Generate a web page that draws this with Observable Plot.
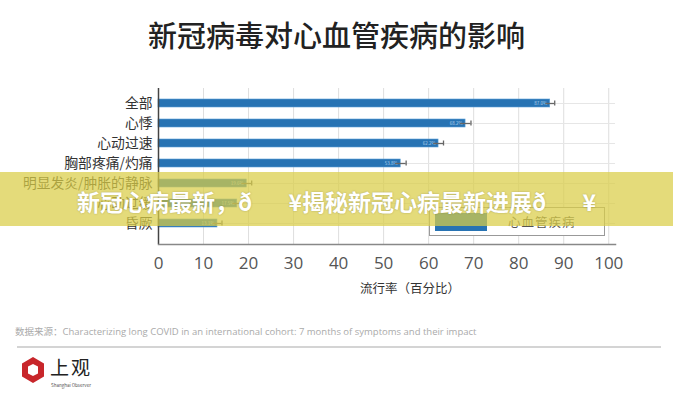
<!DOCTYPE html>
<html>
<head>
<meta charset="utf-8">
<script src="https://cdn.jsdelivr.net/npm/d3@7"></script>
<script src="https://cdn.jsdelivr.net/npm/@observablehq/plot@0.6"></script>
<style>
  html, body { margin: 0; padding: 0; background: #fff; }
  #page { position: relative; width: 673px; height: 400px; overflow: hidden; background: #fff;
          font-family: "Noto Sans CJK SC", "Noto Sans", sans-serif; }
  #title { position: absolute; top: 13px; left: 0; width: 673px; text-align: center;
           font-size: 29px; font-weight: 500; color: #222; line-height: 42px; }
  #chart { position: absolute; top: 80px; left: 0; }
  #chart svg { overflow: visible; }
  #chart [aria-label^="x-axis"] text { font-size: 17px; fill: #555; font-family: "Open Sans", "Noto Sans", sans-serif; }
  #chart [aria-label^="y-axis"] text { font-size: 13.8px; fill: #333; font-family: "Noto Sans CJK SC", sans-serif; }
  #xlabel { position: absolute; top: 279px; left: 360px; width: 100px; text-align: center;
            font-size: 12.5px; color: #333; line-height: 18px; white-space: nowrap; }
  #legend { position: absolute; left: 429px; top: 207px; width: 176px; height: 29px;
            border: 1px solid #999; box-sizing: border-box; background: #fff; }
  #legend .sw { position: absolute; left: 5px; top: 5px; width: 52px; height: 18px; }
  #legend .lt { position: absolute; left: 78px; top: 5px; font-size: 12.5px; color: #555; line-height: 18px; letter-spacing: 1px; }
  #banner { position: absolute; left: 0; top: 172px; width: 673px; height: 54px;
            background: rgba(218, 205, 70, 0.72); z-index: 5; }
  #banner .bt { position: absolute; left: 0; top: 0; width: 673px; line-height: 58px; text-align: center;
                font-size: 23px; font-weight: 700; color: #fff; white-space: nowrap;
                text-shadow: 0 0 2px rgba(0,0,0,0.25); }
  #source { position: absolute; left: 15px; top: 324px; font-size: 9.5px; color: #aaa; white-space: nowrap;
            font-family: "Open Sans", "Noto Sans CJK SC", sans-serif; }
  #sepline { position: absolute; left: 17px; top: 346px; width: 644px; height: 2px; background: #d4d4d4; }
  #logo { position: absolute; left: 20px; top: 356px; width: 100px; height: 40px; }
  #logo .name { position: absolute; left: 30px; top: 1px; font-size: 19px; line-height: 20px; color: #222; white-space: nowrap; letter-spacing: 2px; }
  #logo .en { position: absolute; left: 31px; top: 26px; font-size: 4.5px; line-height: 6px; color: #555; white-space: nowrap; }
</style>
</head>
<body>
<div id="page">
  <div id="title">新冠病毒对心血管疾病的影响</div>
  <div id="chart"></div>
  <div id="xlabel">流行率（百分比）</div>
  <div id="legend"><div class="sw"></div><div class="lt">心血管疾病</div></div>
  <div id="banner"><div class="bt"></div></div>
  <div id="source">数据来源：Characterizing long COVID in an international cohort: 7 months of symptoms and their impact</div>
  <div id="sepline"></div>
  <div id="logo">
    <svg width="26" height="28" viewBox="0 0 26 28">
      <polygon points="13,1 24,7.5 24,20.5 13,27 2,20.5 2,7.5" fill="#c8262b"/>
      <polygon points="13,8 18,10.5 18,17.5 13,20 8,17.5 8,10.5" fill="#fff"/>
    </svg>
    <div class="name">上观</div>
    <div class="en">Shanghai Observer</div>
  </div>
</div>
<script>
// ---- data ----
const categories = ["全部", "心悸", "心动过速", "胸部疼痛/灼痛", "明显发炎/肿胀的静脉", "心动过缓", "昏厥"];
const values = [87.0, 68.2, 62.2, 53.8, 19.6, 17.5, 13.1];
const errors = [1.0, 1.2, 1.1, 1.2, 1.1, 1.0, 1.0];
const xTicks = [0, 10, 20, 30, 40, 50, 60, 70, 80, 90, 100];
const seriesName = "心血管疾病";
const bannerText = "新冠心病最新，\u00f0\u009f\u0094\u00a5揭秘新冠心病最新进展\u00f0\u009f\u0094\u00a5";

const barColor = "#2773b3";
document.querySelector("#legend .sw").style.background = barColor;
document.querySelector("#legend .lt").textContent = seriesName;
document.querySelector("#banner .bt").textContent = bannerText;

const rows = categories.map((name, i) => ({name, value: values[i], err: errors[i]}));

const chart = Plot.plot({
  width: 673,
  height: 220,
  marginLeft: 158,
  marginRight: 58,
  marginTop: 8,
  marginBottom: 56,
  x: {domain: [0, 101.5], ticks: xTicks, tickSize: 0, tickPadding: 12, label: null},
  y: {domain: categories, range: [7.3, 159.3], padding: 0.6, tickSize: 0, tickPadding: 6, label: null},
  style: {background: "transparent", fontFamily: "Noto Sans CJK SC, sans-serif"},
  marks: [
    Plot.ruleX(xTicks.slice(1), {stroke: "#dedede", strokeWidth: 1}),
    Plot.ruleY(rows, {y: "name", x1: 0, x2: 101.5, stroke: "#e6e6e6", strokeWidth: 1}),
    Plot.barX(rows, {y: "name", x: "value", fill: barColor, stroke: "#5b9fd6", strokeWidth: 0.6}),
    Plot.text(rows, {y: "name", x: "value", text: d => d.value.toFixed(1) + "%", dx: -3, textAnchor: "end", fontSize: 4.5, fill: "#b5d3ee"}),
    Plot.ruleY(rows, {y: "name", x1: d => d.value - d.err, x2: d => d.value + d.err, stroke: "#666", strokeWidth: 1.3}),
    Plot.tickX(rows, {y: "name", x: d => d.value + d.err, stroke: "#666", strokeWidth: 1.3, insetTop: 1.5, insetBottom: 1.5}),
    Plot.ruleX([0], {stroke: "#444", strokeWidth: 1.5}),
    Plot.frame({anchor: "bottom", stroke: "#888", strokeWidth: 1.5})
  ]
});
document.getElementById("chart").appendChild(chart);
</script>
</body>
</html>
